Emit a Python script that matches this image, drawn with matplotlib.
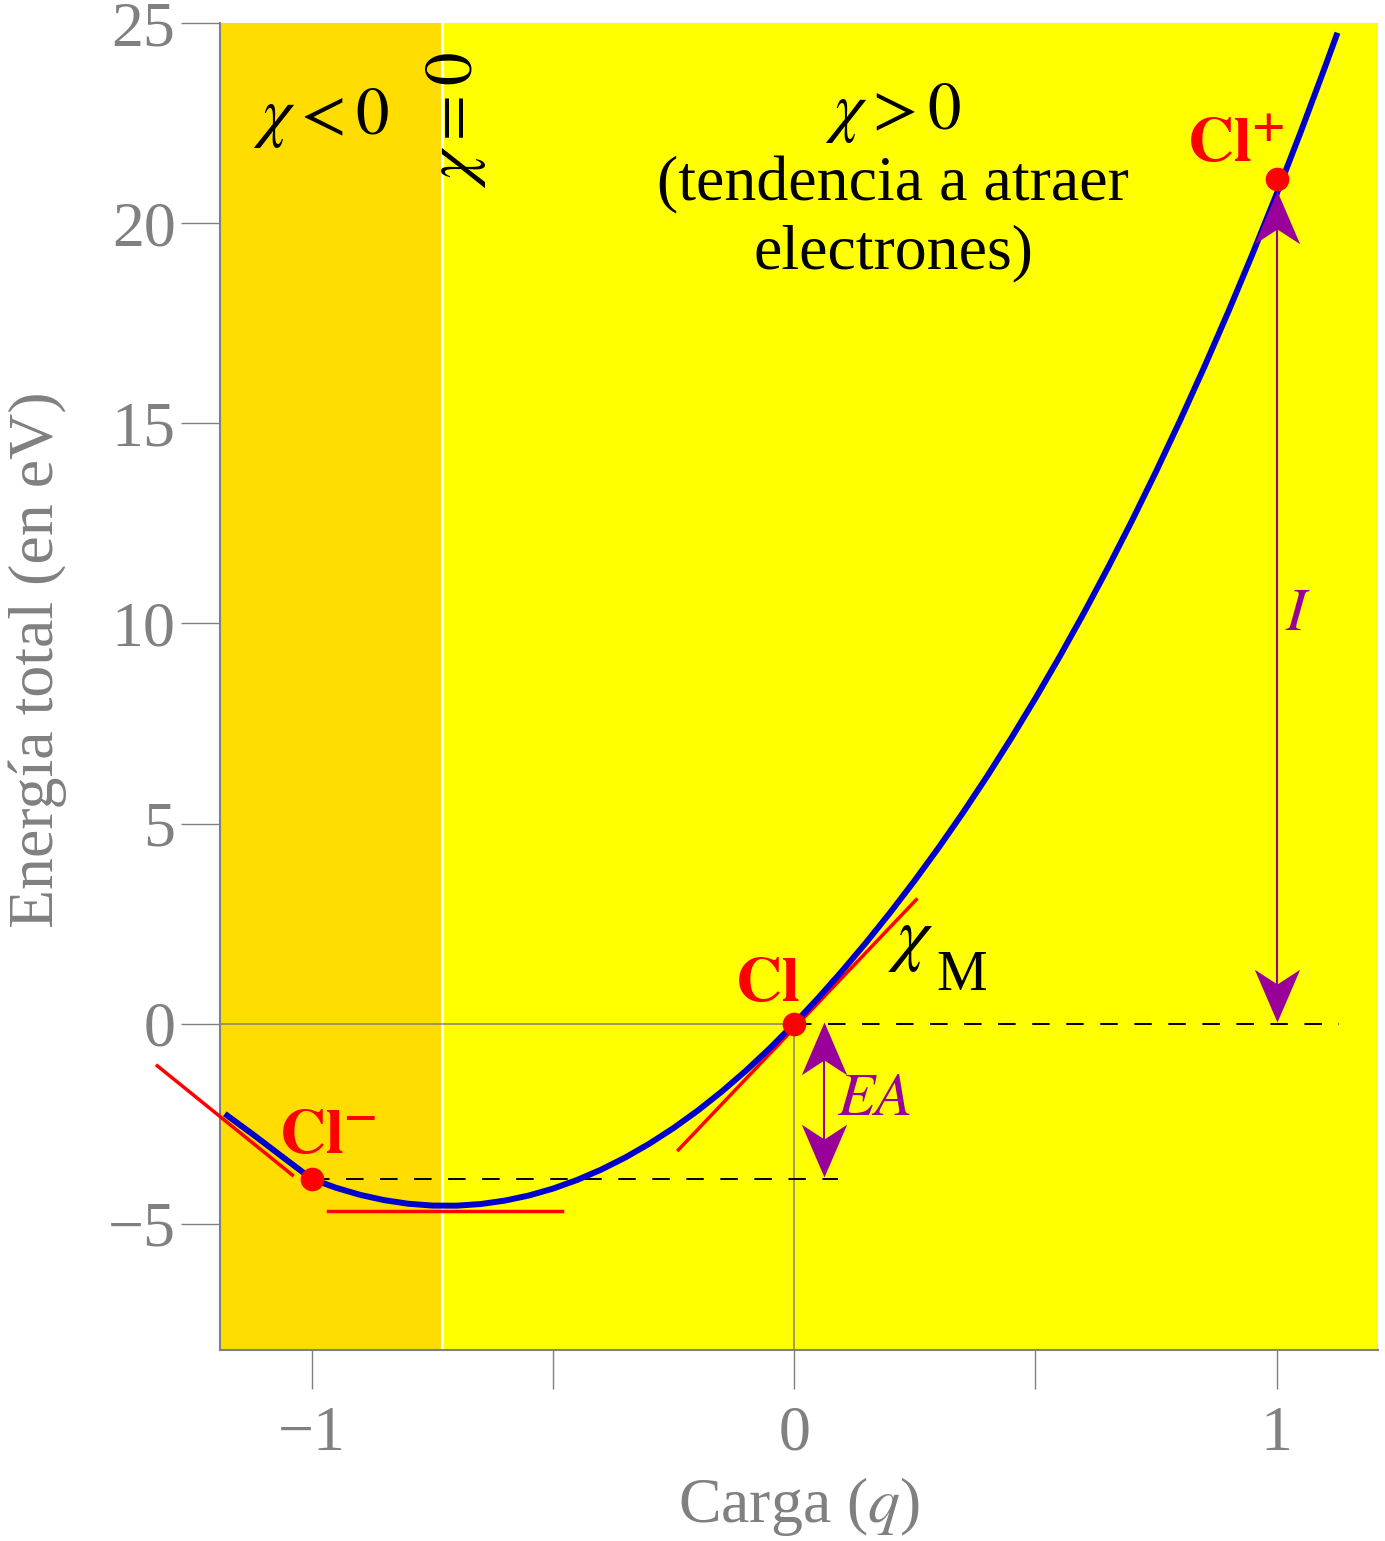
import matplotlib
matplotlib.use("Agg")
import matplotlib.pyplot as plt
from matplotlib.path import Path
from matplotlib.markers import MarkerStyle

plt.rcParams['font.family'] = ['Liberation Serif', 'DejaVu Serif']
plt.rcParams['mathtext.fontset'] = 'stix'

# energy curve
carga = [-1.18, -1.12, -1.06, -1.00, -0.95, -0.90, -0.85, -0.80, -0.75, -0.70,
         -0.65, -0.60, -0.55, -0.50, -0.45, -0.40, -0.35, -0.30, -0.25, -0.20,
         -0.15, -0.10, -0.05, 0.00, 0.05, 0.10, 0.15, 0.20, 0.25, 0.30,
         0.35, 0.40, 0.45, 0.50, 0.55, 0.60, 0.65, 0.70, 0.75, 0.80,
         0.85, 0.90, 0.95, 1.00, 1.05, 1.10, 1.126]
energia = [-2.25, -2.78, -3.33, -3.875, -4.096, -4.273, -4.406, -4.496, -4.542, -4.545,
           -4.504, -4.419, -4.291, -4.119, -3.903, -3.644, -3.341, -2.995, -2.605, -2.171,
           -1.694, -1.173, -0.608, 0.000, 0.646, 1.327, 2.042, 2.793, 3.582, 4.409,
           5.276, 6.184, 7.135, 8.129, 9.167, 10.252, 11.384, 12.564, 13.794, 15.075,
           16.407, 17.793, 19.234, 20.730, 22.283, 23.895, 24.756]

# species
iones_q = [-1, 0, 1]
iones_E = [-3.875, 0.0, 21.1]
iones_lbl = [r'$\mathbf{Cl^{-}}$', r'$\mathbf{Cl}$', r'$\mathbf{Cl^{+}}$']

# tangent segments (x pairs, y pairs)
tan_cl_menos_x = [-1.32, -1.04]
tan_cl_menos_y = [-1.05, -3.78]
tan_min_x = [-0.966, -0.481]
tan_min_y = [-4.68, -4.68]
tan_cl_x = [-0.24, 0.253]
tan_cl_y = [-3.15, 3.10]

chi_cero = -0.73
I_val = 21.1
EA_val = 3.875

gris = '#808080'
morado = '#990099'

fig = plt.figure(figsize=(13.85, 15.41), dpi=100)
ax = fig.add_axes([220 / 1385, 1 - 1350 / 1541, 1158 / 1385, 1327 / 1541])
ax.set_xlim(-1.19, 1.21)
ax.set_ylim(-8.15, 25)

ax.set_facecolor('#FFFF00')
ax.axvspan(-1.19, chi_cero, color='#FFDD00', lw=0, zorder=0)
ax.axvline(chi_cero, color='white', lw=2.2, zorder=1)

# reference lines
ax.plot([-1.19, 0], [0, 0], color=gris, lw=1.1, zorder=2)
ax.plot([0, 0], [-8.15, 0], color=gris, lw=1.1, zorder=2)
ax.plot([0, 1.13], [0, 0], color='black', lw=1.4, dashes=(9, 8.5), zorder=2)
ax.plot([-1, 0.09], [-EA_val, -EA_val], color='black', lw=1.4, dashes=(9, 8.5), zorder=2)

# tangents
for xs, ys in [(tan_cl_menos_x, tan_cl_menos_y), (tan_min_x, tan_min_y), (tan_cl_x, tan_cl_y)]:
    ax.plot(xs, ys, color='red', lw=2.5, clip_on=False, zorder=3)

ax.plot(carga, energia, color='#0000CC', lw=4.3, solid_capstyle='butt',
        solid_joinstyle='round', zorder=4)
ax.plot(iones_q, iones_E, 'o', color='red', ms=16, zorder=5)

# double arrows with notched heads
punta_arriba = MarkerStyle(Path([(0, 0), (-0.43, -1), (0, -0.72), (0.43, -1), (0, 0)],
                                [Path.MOVETO, Path.LINETO, Path.LINETO, Path.LINETO, Path.CLOSEPOLY]))
punta_abajo = MarkerStyle(Path([(0, 0), (-0.43, 1), (0, 0.72), (0.43, 1), (0, 0)],
                               [Path.MOVETO, Path.LINETO, Path.LINETO, Path.LINETO, Path.CLOSEPOLY]))


def flecha(x, y_arriba, y_abajo):
    ax.plot([x, x], [y_arriba - 0.5, y_abajo + 0.5], color=morado, lw=1.5, zorder=6)
    ax.plot([x], [y_arriba], marker=punta_arriba, ms=76, color=morado, mew=0, zorder=6)
    ax.plot([x], [y_abajo], marker=punta_abajo, ms=76, color=morado, mew=0, zorder=6)


flecha(1.0, I_val - 0.3, 0.05)
flecha(0.062, 0.05, -EA_val + 0.05)
ax.text(1.045, 10.2, r'$I$', color=morado, fontsize=44, ha='center', va='center')
ax.text(0.165, -1.92, r'$EA$', color=morado, fontsize=44, ha='center', va='center')

# species labels
ax.text(-0.967, -2.85, iones_lbl[0], color='red', fontsize=46, ha='center', va='center')
ax.text(-0.055, 0.95, iones_lbl[1], color='red', fontsize=46, ha='center', va='center')
ax.text(0.915, 21.9, iones_lbl[2], color='red', fontsize=46, ha='center', va='center')

# chi_M drawn as two pieces so the subscript keeps its large size
ax.text(0.290, 1.67, r'$\chi$', fontsize=52, ha='right', va='baseline')
ax.text(0.295, 0.84, 'M', fontsize=41, ha='left', va='baseline')

# region notes
ax.text(-0.98, 22.63, r'$\chi < 0$', fontsize=48, ha='center', va='center')
ax.text(-0.70, 22.58, r'$\chi = 0$', fontsize=48, ha='center', va='center', rotation=90)
ax.text(0.205, 22.76, r'$\chi > 0$', fontsize=48, ha='center', va='center')
ax.text(0.205, 20.94, '(tendencia a atraer', fontsize=46, ha='center', va='center')
ax.text(0.205, 19.24, 'electrones)', fontsize=46, ha='center', va='center')

# axes styling
for s in ['top', 'right']:
    ax.spines[s].set_visible(False)
for s in ['left', 'bottom']:
    ax.spines[s].set_color(gris)
    ax.spines[s].set_linewidth(1.5)

ax.set_xticks([-1, -0.5, 0, 0.5, 1])
ax.set_xticklabels(['\u22121', '', '0', '', '1'])
ax.set_yticks([-5, 0, 5, 10, 15, 20, 25])
ax.set_yticklabels(['\u22125', '0', '5', '10', '15', '20', '25'])
ax.tick_params(axis='both', direction='out', length=28, width=1, color=gris,
               labelcolor=gris, labelsize=46)
ax.tick_params(axis='x', pad=12)
ax.tick_params(axis='y', pad=4)

ax.set_xlabel(r'Carga ($q$)', fontsize=46, color=gris, labelpad=8)
ax.set_ylabel('Energía total (en eV)', fontsize=46, color=gris)
ax.yaxis.set_label_coords(-0.132, 0.52)

fig.savefig('out.png', dpi=100)
